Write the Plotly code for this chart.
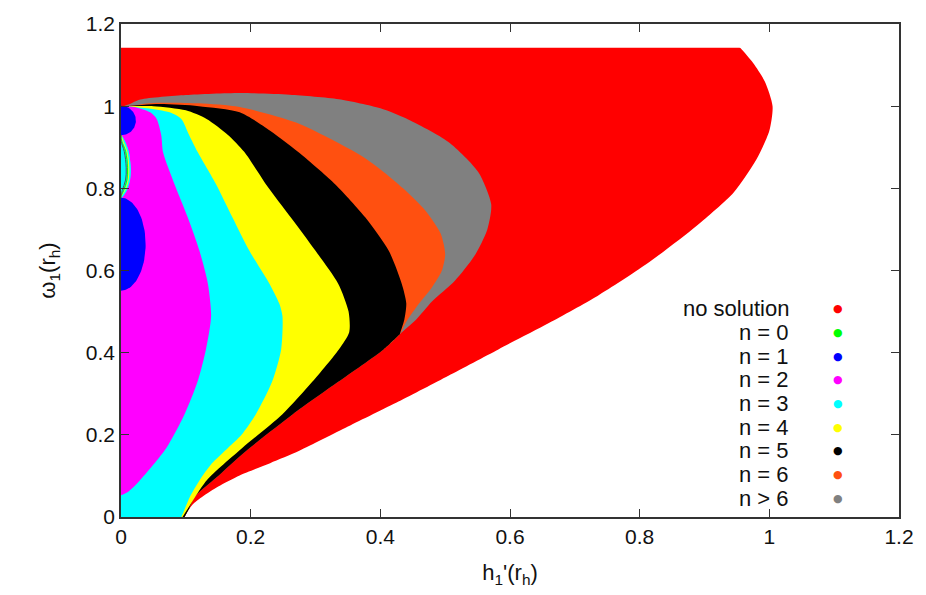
import numpy as np
import plotly.graph_objects as go

# ---------------- data ----------------
# outer "no solution" region boundary (lower / right edge), from the cusp upward
red_x = [0.098, 0.103, 0.112, 0.126, 0.15, 0.183, 0.23, 0.275, 0.35, 0.428, 0.505, 0.582,
         0.66, 0.735, 0.81, 0.888, 0.945, 0.98, 1.0, 1.005, 0.993, 0.975, 0.955]
red_y = [0.0, 0.015, 0.033, 0.05, 0.074, 0.101, 0.131, 0.161, 0.22, 0.281, 0.344, 0.408,
         0.472, 0.538, 0.615, 0.709, 0.79, 0.87, 0.94, 1.0, 1.06, 1.105, 1.142]
red_top = 1.142

# common lower edge of the n=5, n=6, n>6 bands (from upper right down to the cusp)
c_x = [0.43, 0.405, 0.335, 0.265, 0.187, 0.147, 0.113, 0.105, 0.098]
c_y = [0.445, 0.408, 0.329, 0.25, 0.153, 0.096, 0.048, 0.02, 0.0]

# band outer boundaries, starting at the apex near (0, 1)
gray_x = [0.004, 0.03, 0.10, 0.183, 0.26, 0.336, 0.40, 0.44, 0.505, 0.551, 0.571, 0.565,
          0.545, 0.515, 0.48, 0.455]
gray_y = [1.0, 1.016, 1.027, 1.032, 1.028, 1.017, 0.995, 0.97, 0.913, 0.84, 0.761, 0.70,
          0.635, 0.575, 0.525, 0.48]

orange_x = [0.004, 0.05, 0.12, 0.183, 0.27, 0.37, 0.405, 0.435, 0.47, 0.493, 0.50, 0.495,
            0.48, 0.46, 0.44]
orange_y = [1.0, 1.008, 1.007, 0.998, 0.96, 0.88, 0.84, 0.80, 0.745, 0.69, 0.64, 0.60,
            0.56, 0.52, 0.475]

black_x = [0.004, 0.06, 0.12, 0.183, 0.23, 0.28, 0.331, 0.377, 0.413, 0.433, 0.44, 0.437, 0.43]
black_y = [1.0, 1.005, 1.0, 0.985, 0.94, 0.88, 0.809, 0.729, 0.648, 0.568, 0.52, 0.48, 0.445]

yellow_x = [0.004, 0.05, 0.10, 0.132, 0.165, 0.19, 0.224, 0.262, 0.30, 0.335, 0.351, 0.352,
            0.336, 0.295, 0.249, 0.187, 0.132, 0.103, 0.095]
yellow_y = [1.0, 1.0, 0.99, 0.969, 0.93, 0.889, 0.809, 0.729, 0.648, 0.568, 0.50, 0.45,
            0.408, 0.329, 0.25, 0.168, 0.089, 0.02, 0.0]

cyan_x = [0.004, 0.04, 0.075, 0.093, 0.105, 0.118, 0.147, 0.172, 0.198, 0.229, 0.244, 0.249,
          0.247, 0.233, 0.208, 0.186, 0.165, 0.14, 0.121, 0.106, 0.093]
cyan_y = [1.0, 0.995, 0.985, 0.969, 0.93, 0.889, 0.809, 0.729, 0.648, 0.568, 0.52, 0.489,
          0.408, 0.329, 0.25, 0.20, 0.168, 0.13, 0.089, 0.048, 0.0]

mag_x = [0.004, 0.02, 0.045, 0.055, 0.062, 0.065, 0.083, 0.103, 0.121, 0.134, 0.139, 0.131,
         0.118, 0.098, 0.070, 0.029, 0.01, 0.0]
mag_y = [1.0, 0.998, 0.985, 0.969, 0.93, 0.887, 0.808, 0.729, 0.648, 0.568, 0.489, 0.408,
         0.329, 0.250, 0.168, 0.089, 0.06, 0.053]

# thin crescent on the left edge between the two n=1 islands
cres_x = [0.0, 0.006, 0.012, 0.015, 0.014, 0.009, 0.003, 0.0]
cres_y = [0.93, 0.915, 0.89, 0.85, 0.82, 0.795, 0.78, 0.775]

# n = 1 islands (centre, half widths)
blue_cx = [0.0, 0.0]
blue_cy = [0.965, 0.664]
blue_ax = [0.023, 0.038]
blue_ay = [0.036, 0.113]

x_ticks = [0, 0.2, 0.4, 0.6, 0.8, 1.0, 1.2]
x_tick_text = ["0", "0.2", "0.4", "0.6", "0.8", "1", "1.2"]
y_ticks = [0, 0.2, 0.4, 0.6, 0.8, 1.0, 1.2]
y_tick_text = ["0", "0.2", "0.4", "0.6", "0.8", "1", "1.2"]

leg_labels = ["no solution", "n = 0", "n = 1", "n = 2", "n = 3", "n = 4", "n = 5", "n = 6", "n > 6"]
leg_colors = ["#ff0000", "#00ff00", "#0000ff", "#ff00ff", "#00ffff", "#ffff00", "#000000",
              "#ff5010", "#808080"]

RED, GREEN, BLUE, MAG, CYAN, YEL, BLK, ORA, GRY = leg_colors

# ---------------- figure ----------------
fig = go.Figure()
OUT = -0.08      # helper coordinate outside the visible range (clipped away)


def poly(xs, ys, color, spline=True):
    fig.add_trace(go.Scatter(x=xs, y=ys, mode="lines", fill="toself", fillcolor=color,
                             line=dict(width=0, color=color,
                                       shape="spline" if spline else "linear", smoothing=0.7),
                             hoverinfo="skip", showlegend=False))


def band(bx, by, lx, ly, color):
    # outer boundary + lower edge, closed through points outside the axes
    xs = [OUT] + list(bx) + list(lx)
    ys = [1.0] + list(by) + list(ly)
    xe = xs[-1]
    xs += [xe - 0.01, xe - 0.03, OUT, OUT, OUT]
    ys += [-0.03, OUT, OUT, 0.5, 0.95]
    poly(xs, ys, color)


# red (no solution): curved edge continued above the flat top, then masked
rx = [red_x[0] - 0.03, red_x[0] - 0.01] + red_x + [0.93, 0.90, 0.5, OUT, OUT, OUT]
ry = [OUT, -0.03] + red_y + [1.18, 1.22, 1.25, 1.25, 0.6, OUT]
poly(rx, ry, RED)
# white mask above the flat top of the region
fig.add_trace(go.Scatter(x=[-0.05, 1.25, 1.25, -0.05], y=[red_top, red_top, 1.3, 1.3],
                         mode="lines", fill="toself", fillcolor="white",
                         line=dict(width=0, color="white"), hoverinfo="skip", showlegend=False))

band(gray_x, gray_y, c_x, c_y, GRY)
band(orange_x, orange_y, c_x, c_y, ORA)
band(black_x, black_y, c_x, c_y, BLK)
band(yellow_x, yellow_y, [], [], YEL)
band(cyan_x, cyan_y, [], [], CYAN)

# n = 2 (left edge follows the crescent)
mx = [OUT] + mag_x + [-0.01, OUT, OUT, -0.01] + list(reversed(cres_x)) + [-0.01, OUT]
my = [1.0] + mag_y + [0.05, 0.05, 0.77, 0.772] + list(reversed(cres_y)) + [0.935, 0.94]
poly(mx, my, MAG)

# crescent fringe lines
for off, col in [(0.001, CYAN), (0.003, YEL), (0.005, GREEN), (0.007, "#555555")]:
    fig.add_trace(go.Scatter(x=[max(v - off, 0) for v in cres_x], y=cres_y, mode="lines",
                             line=dict(color=col, width=1, shape="spline"), hoverinfo="skip",
                             showlegend=False))

# n = 1 islands
t = np.linspace(-np.pi / 2, np.pi / 2, 60)
for cx, cy, ax_, ay_ in zip(blue_cx, blue_cy, blue_ax, blue_ay):
    ex = list(cx + ax_ * np.cos(t))
    ey = list(cy + ay_ * np.sin(t))
    poly(ex + [0.0], ey + [cy - ay_], BLUE, spline=False)

# legend (gnuplot style: label then dot)
for i, (lab, col) in enumerate(zip(leg_labels, leg_colors)):
    yy = 0.507 - 0.0577 * i
    fig.add_annotation(x=1.033, y=yy, xref="x", yref="y", text=lab, showarrow=False,
                       xanchor="right", yanchor="middle",
                       font=dict(family="Liberation Sans, Arial, sans-serif", size=22, color="#111111"))
    fig.add_annotation(x=1.106, y=yy, xref="x", yref="y", text="\u25CF", showarrow=False,
                       xanchor="center", yanchor="middle",
                       font=dict(family="DejaVu Sans", size=11, color=col))

axis_common = dict(showgrid=False, zeroline=False, showline=True, mirror="ticks",
                   linecolor="#333333", linewidth=1.5, ticks="inside", ticklen=8,
                   tickcolor="#333333", tickwidth=1.2,
                   tickfont=dict(family="Liberation Sans, Arial, sans-serif", size=21, color="#111111"))

fig.update_layout(
    width=926, height=595,
    margin=dict(l=121, r=23, t=17, b=78),
    paper_bgcolor="white", plot_bgcolor="white",
    xaxis=dict(range=[0, 1.2], tickvals=x_ticks, ticktext=x_tick_text,
               title=dict(text="h<sub>1</sub>'(r<sub>h</sub>)", standoff=18,
                          font=dict(family="Liberation Sans, Arial, sans-serif", size=22, color="#111111")),
               **axis_common),
    yaxis=dict(range=[0, 1.2], tickvals=y_ticks, ticktext=y_tick_text,
               title=dict(text="\u03C9<sub>1</sub>(r<sub>h</sub>)", standoff=24,
                          font=dict(family="Liberation Sans, Arial, sans-serif", size=22, color="#111111")),
               **axis_common),
)

fig.write_html("out.html")
